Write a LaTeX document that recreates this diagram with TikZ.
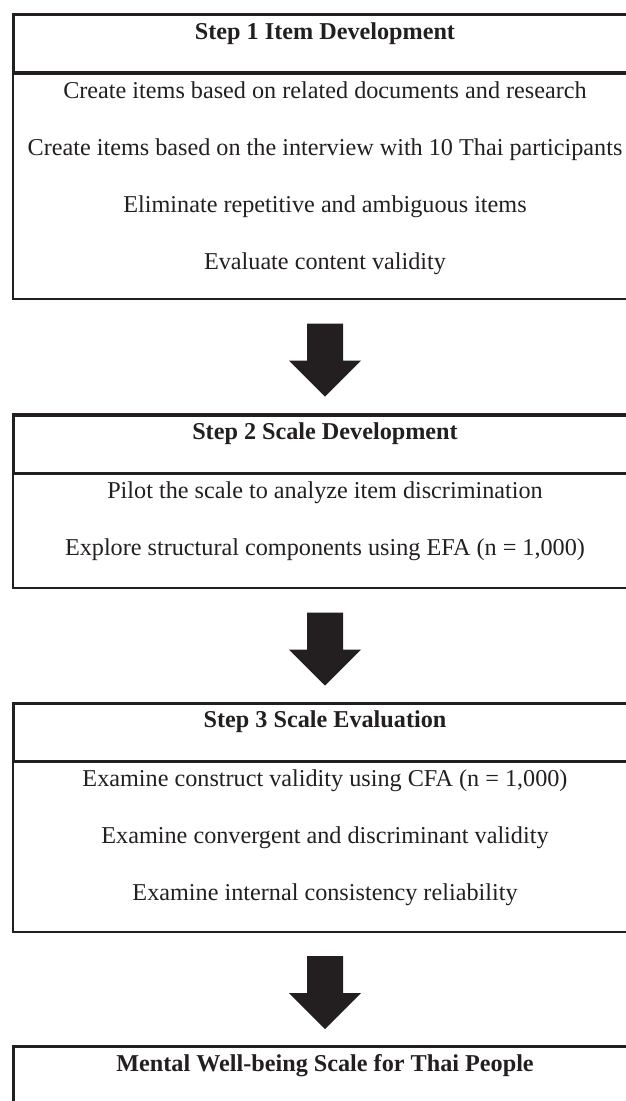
\documentclass[tikz,border=0pt]{standalone}
\usepackage{fontspec}
\setmainfont{Liberation Serif}
\usetikzlibrary{calc}
\definecolor{ink}{RGB}{35,31,32}
\begin{document}
\begin{tikzpicture}[x=1pt,y=-1pt,
  hdr/.style={draw=ink, line width=3.4pt, rectangle, outer sep=0pt, inner sep=0pt, anchor=north west, minimum width=622.6pt, minimum height=58.3pt},
  bodybox/.style={draw=ink, line width=2pt, rectangle, outer sep=0pt, inner sep=0pt, anchor=north west, minimum width=624pt},
  txt/.style={anchor=base, inner sep=0pt, outer sep=0pt, text=ink, font=\fontsize{24.2}{28}\selectfont},
  htxt/.style={anchor=base, inner sep=0pt, outer sep=0pt, text=ink, font=\fontsize{24.2}{28}\selectfont\bfseries},
  blockarrow/.pic={\fill[ink] (-18,0) -- (18,0) -- (18,37) -- (36,37) -- (0,73) -- (-36,37) -- (-18,37) -- cycle;}
]
\useasboundingbox (0,0) rectangle (626,1101);
\clip (0,0) rectangle (626,1101);

% ---------- Step 1 ----------
\node[bodybox, minimum height=226pt] (b1) at (13,73) {};
\node[hdr] (h1) at (13.7,14.7) {};
\node[htxt] (h1t) at ($(h1.north)+(0,24.3)$) {Step 1 Item Development};
\node[txt] (t11) at ($(h1.south)+(0,25)$) {Create items based on related documents and research};
\node[txt] (t12) at ($(h1.south)+(0,82)$) {Create items based on the interview with 10 Thai participants};
\node[txt] (t13) at ($(h1.south)+(0,139)$) {Eliminate repetitive and ambiguous items};
\node[txt] (t14) at ($(h1.south)+(0,196)$) {Evaluate content validity};

% ---------- Step 2 ----------
\node[bodybox, minimum height=115pt] (b2) at (13,473) {};
\node[hdr] (h2) at (13.7,415) {};
\node[htxt] (h2t) at ($(h2.north)+(0,24.3)$) {Step 2 Scale Development};
\node[txt] (t21) at ($(h2.south)+(0,25)$) {Pilot the scale to analyze item discrimination};
\node[txt] (t22) at ($(h2.south)+(0,82)$) {Explore structural components using EFA (n = 1,000)};

% ---------- Step 3 ----------
\node[bodybox, minimum height=170pt] (b3) at (13,761.7) {};
\node[hdr] (h3) at (13.7,703.3) {};
\node[htxt] (h3t) at ($(h3.north)+(0,24.3)$) {Step 3 Scale Evaluation};
\node[txt] (t31) at ($(h3.south)+(0,25)$) {Examine construct validity using CFA (n = 1,000)};
\node[txt] (t32) at ($(h3.south)+(0,82)$) {Examine convergent and discriminant validity};
\node[txt] (t33) at ($(h3.south)+(0,139)$) {Examine internal consistency reliability};

% ---------- Result ----------
\node[hdr] (h4) at (13.7,1046.7) {};
\node[htxt] (h4t) at ($(h4.north)+(0,24.3)$) {Mental Well-being Scale for Thai People};

% ---------- Arrows ----------
\path (b1.south) ++(0,24.5) pic {blockarrow};
\path (b2.south) ++(0,24.5) pic {blockarrow};
\path (b3.south) ++(0,24.5) pic {blockarrow};
\end{tikzpicture}
\end{document}
